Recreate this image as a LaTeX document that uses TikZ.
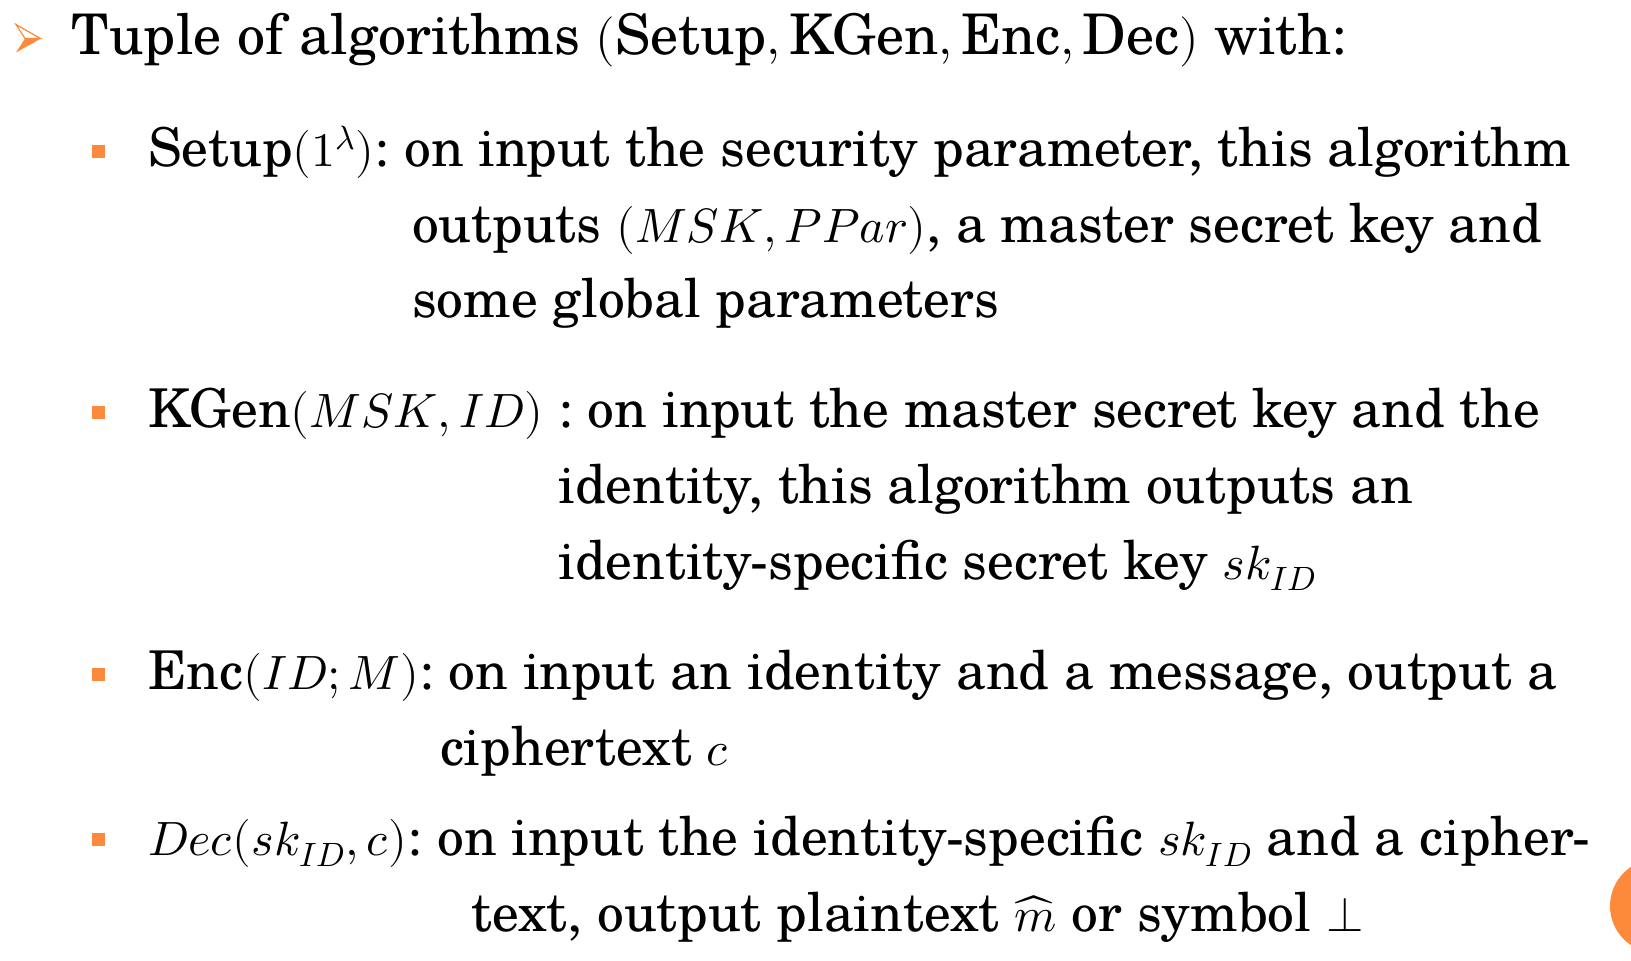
\documentclass[tikz,border=0pt]{standalone}
\usepackage{fontspec}
\usepackage{unicode-math}
\setmainfont{texgyreschola-regular.otf}
\setmathfont{Latin Modern Math}[Scale=0.9]
\frenchspacing

\definecolor{slideorange}{RGB}{253,138,58}
\tikzset{
  headtext/.style={font=\fontsize{56}{64}\selectfont, text=black, anchor=base west, inner sep=0pt},
  itemtext/.style={font=\fontsize{53.5}{62}\selectfont, text=black, anchor=base west, inner sep=0pt},
  sqbullet/.style={rectangle, fill=slideorange, minimum width=13pt, minimum height=13pt, inner sep=0pt},
}

\begin{document}
\begin{tikzpicture}[x=1pt,y=-1pt]
\useasboundingbox (0,0) rectangle (1631,961);
\fill[slideorange] (1657,906) circle (47);

\draw[slideorange,line width=1.2pt,line join=miter] (16,24.5) -- (40.5,38.5) -- (25,38.5) -- cycle;
\fill[slideorange] (25,38.5) -- (41,38.5) -- (16,52.5) -- cycle;
\node[headtext] (head) at (71,54) {Tuple of algorithms $(\mathrm{Setup}, \mathrm{KGen}, \mathrm{Enc}, \mathrm{Dec})$ with:};

\node[sqbullet] (b1) at (98.5,151) {};
\node[itemtext] (setup) at (148,166.5) {$\mathrm{Setup}(1^{\lambda})$: on input the security parameter, this algorithm};
\node[itemtext] (setupa) at (412,242) {outputs $(MSK, PPar)$, a master secret key and};
\node[itemtext] (setupb) at (412,317) {some global parameters};

\node[sqbullet] (b2) at (98.5,412) {};
\node[itemtext] (kgen) at (148,427.5) {$\mathrm{KGen}(MSK, ID)$ : on input the master secret key and the};
\node[itemtext] (kgena) at (558,503.5) {identity, this algorithm outputs an};
\node[itemtext] (kgenb) at (558,579) {identity-specific secret key $sk_{ID}$};

\node[sqbullet] (b3) at (98.5,674) {};
\node[itemtext] (enc) at (148,689.5) {$\mathrm{Enc}(ID; M)$: on input an identity and a message, output a};
\node[itemtext] (enca) at (440,765) {ciphertext $c$};

\node[sqbullet] (b4) at (98.5,839.5) {};
\node[itemtext] (dec) at (148,855) {$Dec(sk_{ID}, c)$: on input the identity-specific $sk_{ID}$ and a cipher-};
\node[itemtext] (deca) at (471,931) {text, output plaintext $\widehat{m}$ or symbol $\bot$};
\end{tikzpicture}
\end{document}
